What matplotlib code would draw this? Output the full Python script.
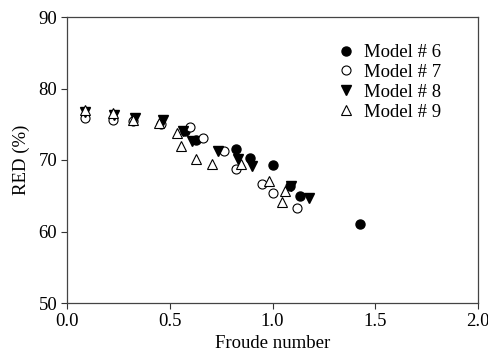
import matplotlib
matplotlib.use("Agg")
import matplotlib.pyplot as plt

plt.rcParams['font.family'] = ['Liberation Serif', 'DejaVu Serif']

# Model 6 (filled circles)
fr6 = [0.575, 0.63, 0.82, 0.89, 1.0, 1.085, 1.135, 1.425]
red6 = [74.1, 72.8, 71.6, 70.3, 69.3, 66.4, 65.0, 61.0]

# Model 7 (open circles)
fr7 = [0.09, 0.225, 0.32, 0.455, 0.60, 0.66, 0.765, 0.82, 0.95, 1.0, 1.12]
red7 = [75.9, 75.6, 75.4, 75.0, 74.6, 73.1, 71.3, 68.8, 66.7, 65.4, 63.3]

# Model 8 (filled down triangles)
fr8 = [0.09, 0.23, 0.33, 0.465, 0.565, 0.61, 0.735, 0.83, 0.90, 1.09, 1.18]
red8 = [76.7, 76.3, 75.9, 75.6, 74.0, 72.6, 71.3, 70.1, 69.2, 66.3, 64.7]

# Model 9 (open up triangles)
fr9 = [0.09, 0.225, 0.32, 0.45, 0.535, 0.555, 0.63, 0.705, 0.845, 0.985, 1.06, 1.045]
red9 = [77.0, 76.6, 75.6, 75.2, 73.8, 71.9, 70.2, 69.5, 69.4, 67.0, 65.6, 64.1]

fig = plt.figure(figsize=(4.89, 3.6), dpi=100)
ax = fig.add_axes([67/489, 1 - 303/360, 411/489, 286/360])

ms = 6.5
ax.plot(fr6, red6, 'o', ms=ms, color='black', mec='black', label='Model # 6')
ax.plot(fr7, red7, 'o', ms=ms, mfc='white', mec='black', mew=0.8, label='Model # 7')
ax.plot(fr8, red8, 'v', ms=ms, color='black', mec='black', label='Model # 8')
ax.plot(fr9, red9, '^', ms=ms, mfc='white', mec='black', mew=0.8, label='Model # 9')

ax.set_xlim(0, 2.0)
ax.set_ylim(50, 90)
ax.set_xticks([0.0, 0.5, 1.0, 1.5, 2.0])
ax.set_xticklabels(['0.0', '0.5', '1.0', '1.5', '2.0'])
ax.set_yticks([50, 60, 70, 80, 90])
ax.tick_params(direction='out', length=4, width=0.8, labelsize=13.5, colors='#333333',
               labelcolor='black', pad=3)
for s in ax.spines.values():
    s.set_color('#444444')
    s.set_linewidth(0.9)

ax.set_xlabel('Froude number', fontsize=13.5, labelpad=4)
ax.set_ylabel('RED (%)', fontsize=13.5, labelpad=6)

ax.legend(loc='upper left', bbox_to_anchor=(0.655, 0.905), frameon=False,
          fontsize=13.5, handletextpad=0.5, labelspacing=0.14, handlelength=1.0,
          borderpad=0.0, borderaxespad=0.0)

fig.savefig('out.png', dpi=100)
